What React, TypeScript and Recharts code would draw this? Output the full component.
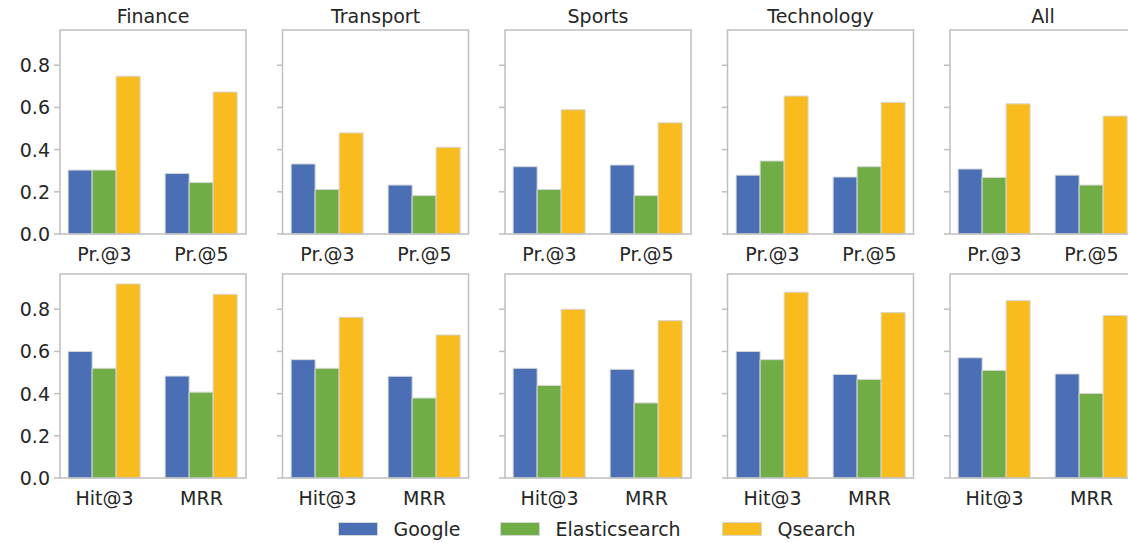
import { BarChart, Bar, XAxis, YAxis } from "recharts";

const domains = ["Finance", "Transport", "Sports", "Technology", "All"];
const engines = ["Google", "Elasticsearch", "Qsearch"];
const topMetrics = ["Pr.@3", "Pr.@5"];
const bottomMetrics = ["Hit@3", "MRR"];
const yTicks = [0, 0.2, 0.4, 0.6, 0.8];

// precision rows, one pair [Pr.@3, Pr.@5] per domain
const googleTop = [[0.303, 0.287], [0.332, 0.232], [0.319, 0.327], [0.279, 0.27], [0.308, 0.279]];
const elasticTop = [[0.303, 0.244], [0.211, 0.182], [0.211, 0.182], [0.346, 0.319], [0.268, 0.232]];
const qsearchTop = [[0.748, 0.673], [0.479, 0.411], [0.589, 0.527], [0.654, 0.624], [0.617, 0.559]];

// ranking rows, one pair [Hit@3, MRR] per domain
const googleBottom = [[0.6, 0.483], [0.561, 0.482], [0.52, 0.515], [0.6, 0.491], [0.57, 0.493]];
const elasticBottom = [[0.52, 0.407], [0.52, 0.379], [0.439, 0.356], [0.561, 0.467], [0.51, 0.401]];
const qsearchBottom = [[0.92, 0.871], [0.762, 0.678], [0.8, 0.746], [0.881, 0.784], [0.841, 0.77]];

const COLORS = ["#4a6fb5", "#70ad47", "#f8bc1e"];
const AXIS = "#bfbfbf";
const TEXT = "#262626";
const FONT = "'DejaVu Sans', sans-serif";

const FRAME_W = 186;
const FRAME_H = 204;
const FIRST_X = 60;
const STEP_X = 222.5;
const ROW_TOPS = [30, 274];
const Y_W = 60;
const X_H = 40;
const PAD = 4;

const legendX = [338.5, 500.5, 722.5];

function YTick(props: any) {
  const { x, y, payload, showLabel } = props;
  const edge = x + PAD;
  return (
    <g>
      <line x1={edge - 6} x2={edge} y1={y} y2={y} stroke={AXIS} strokeWidth={1.5} />
      {showLabel && (
        <text
          x={edge - 10}
          y={y}
          textAnchor="end"
          dominantBaseline="central"
          fontSize={19}
          fontFamily={FONT}
          fill={TEXT}
        >
          {payload.value.toFixed(1)}
        </text>
      )}
    </g>
  );
}

function Panel({ row, col }: { row: number; col: number }) {
  const metrics = row === 0 ? topMetrics : bottomMetrics;
  const g = row === 0 ? googleTop : googleBottom;
  const e = row === 0 ? elasticTop : elasticBottom;
  const q = row === 0 ? qsearchTop : qsearchBottom;
  const data = metrics.map((m, i) => ({
    metric: m,
    Google: g[col][i],
    Elasticsearch: e[col][i],
    Qsearch: q[col][i],
  }));
  const frameLeft = FIRST_X + col * STEP_X;

  return (
    <div style={{ position: "absolute", left: frameLeft - PAD - Y_W, top: ROW_TOPS[row] }}>
      <BarChart
        width={Y_W + FRAME_W + 2 * PAD}
        height={FRAME_H + X_H}
        data={data}
        margin={{ top: 0, right: 0, bottom: 0, left: 0 }}
        barCategoryGap="12.5%"
        barGap={0}
      >
        <XAxis
          dataKey="metric"
          height={X_H}
          axisLine={false}
          tickLine={false}
          tickSize={0}
          tickMargin={14}
          interval={0}
          tick={{ fontSize: 19, fill: TEXT, fontFamily: FONT }}
        />
        <YAxis
          type="number"
          width={Y_W}
          domain={[0, 0.967]}
          ticks={yTicks}
          axisLine={false}
          tickLine={false}
          tickSize={0}
          tickMargin={0}
          interval={0}
          tick={<YTick showLabel={col === 0} />}
        />
        {engines.map((name, i) => (
          <Bar
            key={name}
            dataKey={name}
            fill={COLORS[i]}
            stroke="#d6d6d6"
            strokeWidth={1}
            isAnimationActive={false}
          />
        ))}
      </BarChart>
    </div>
  );
}

export default function App() {
  return (
    <div
      style={{
        position: "absolute",
        left: 0,
        top: 0,
        width: 1128,
        height: 543,
        overflow: "hidden",
        background: "#fff",
        fontFamily: FONT,
      }}
    >
      {[0, 1].map((row) => domains.map((d, col) => <Panel key={`${row}-${d}`} row={row} col={col} />))}
      <svg
        width={1128}
        height={543}
        style={{ position: "absolute", left: 0, top: 0, pointerEvents: "none" }}
      >
        {[0, 1].map((row) =>
          domains.map((d, col) => (
            <rect
              key={`f-${row}-${d}`}
              x={FIRST_X + col * STEP_X}
              y={ROW_TOPS[row]}
              width={FRAME_W}
              height={FRAME_H}
              fill="none"
              stroke={AXIS}
              strokeWidth={1.5}
            />
          ))
        )}
        {domains.map((d, col) => (
          <text
            key={`t-${d}`}
            x={FIRST_X + col * STEP_X + FRAME_W / 2}
            y={22.5}
            textAnchor="middle"
            fontSize={19}
            fontFamily={FONT}
            fill={TEXT}
          >
            {d}
          </text>
        ))}
        {engines.map((name, i) => (
          <g key={`l-${name}`}>
            <rect x={legendX[i]} y={522.5} width={39} height={13} fill={COLORS[i]} stroke="#d6d6d6" strokeWidth={1} />
            <text x={legendX[i] + 55} y={535.5} fontSize={19} fontFamily={FONT} fill={TEXT}>
              {name}
            </text>
          </g>
        ))}
      </svg>
    </div>
  );
}
